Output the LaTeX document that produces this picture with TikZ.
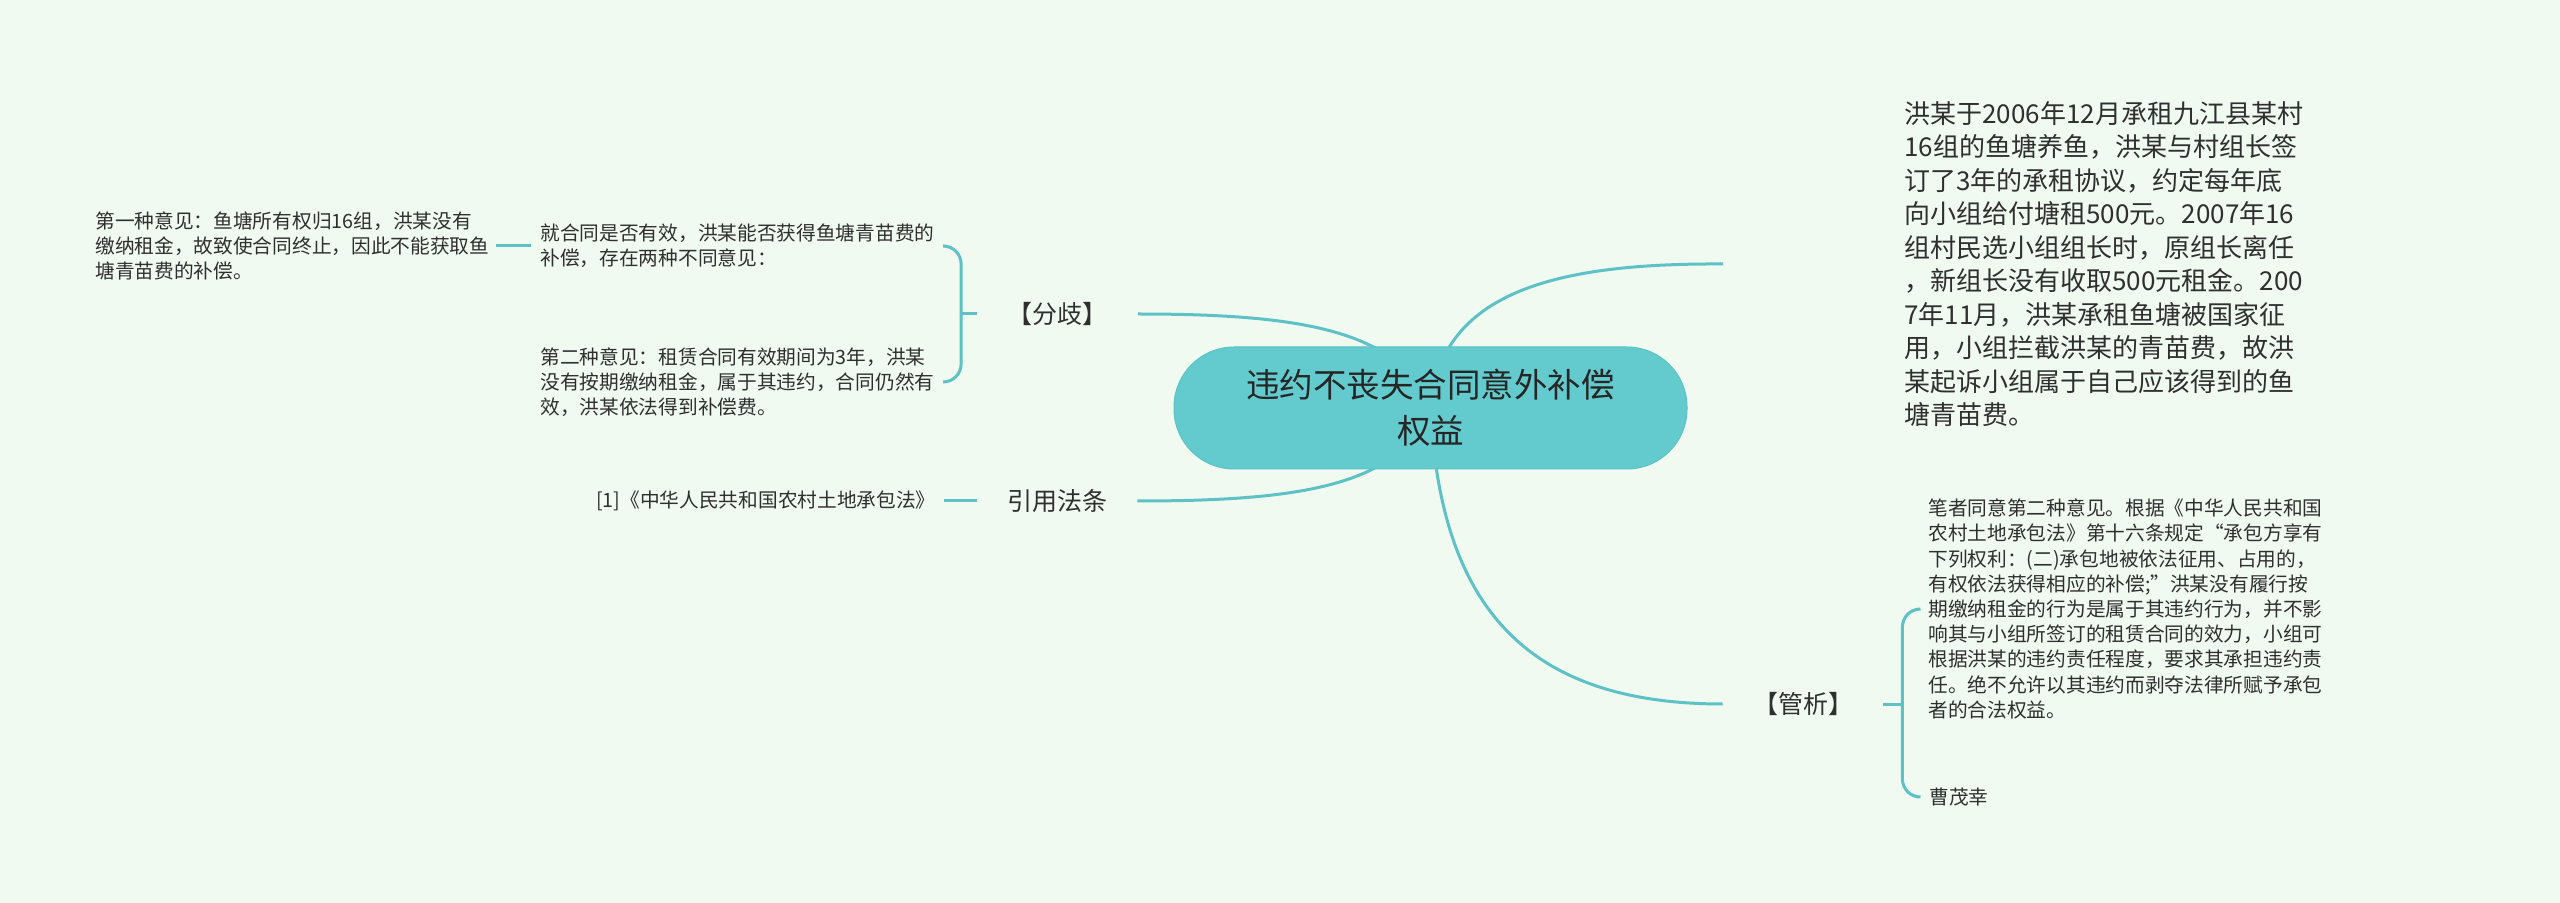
\documentclass[tikz,border=0pt]{standalone}
\usepackage{fontspec}
\setmainfont{Noto Sans CJK SC}
\pgfdeclarelayer{bg}
\pgfdeclarelayer{lines}
\pgfsetlayers{bg,lines,main}
\definecolor{bgc}{HTML}{F0FAF0}
\definecolor{linec}{HTML}{5EC1C5}
\definecolor{rootc}{HTML}{63CACD}
\definecolor{txt}{HTML}{2F2F2F}
\begin{document}
\begin{tikzpicture}[x=0.5pt,y=-0.5pt,
  conn/.style={draw=linec,line width=1.5pt},
  brace/.style={conn,rounded corners=9pt},
  rootnode/.style={draw=linec,line width=0.5pt,fill=rootc,rounded corners=30pt,minimum width=256.5pt,minimum height=61pt,inner sep=0pt,align=center,text=black!85,font=\fontsize{16.75pt}{23pt}\selectfont},
  lbl/.style={inner sep=0pt,minimum width=80pt,font=\fontsize{12.5pt}{15pt}\selectfont,text=txt},
  small/.style={inner sep=0pt,align=left,font=\fontsize{9.85pt}{12.6pt}\selectfont,text=txt},
  big/.style={inner sep=0pt,align=left,font=\fontsize{13pt}{16.75pt}\selectfont,text=txt}]
\useasboundingbox (0,0) rectangle (2560,903);
\begin{pgfonlayer}{bg}
\fill[bgc] (0,0) rectangle (2560,903);
\end{pgfonlayer}

% nodes
\node[rootnode] (root) at (1430.5,408) {违约不丧失合同意外补偿\\权益};
\node[lbl] (fq) at (1057.5,314) {【分歧】};
\node[lbl] (yy) at (1057,501) {引用法条};
\node[lbl] (gx) at (1803,704) {【管析】};
\node[big,anchor=west] (tr) at (1904,264) {洪某于2006年12月承租九江县某村\\16组的鱼塘养鱼，洪某与村组长签\\订了3年的承租协议，约定每年底\\向小组给付塘租500元。2007年16\\组村民选小组组长时，原组长离任\\，新组长没有收取500元租金。200\\7年11月，洪某承租鱼塘被国家征\\用，小组拦截洪某的青苗费，故洪\\某起诉小组属于自己应该得到的鱼\\塘青苗费。};
\node[small,anchor=west] (jht) at (540,246) {就合同是否有效，洪某能否获得鱼塘青苗费的\\补偿，存在两种不同意见：};
\node[small,anchor=west] (der) at (540,382) {第二种意见：租赁合同有效期间为3年，洪某\\没有按期缴纳租金，属于其违约，合同仍然有\\效，洪某依法得到补偿费。};
\node[small,anchor=west] (dyi) at (95,246) {第一种意见：鱼塘所有权归16组，洪某没有\\缴纳租金，故致使合同终止，因此不能获取鱼\\塘青苗费的补偿。};
\node[small,anchor=east] (law) at (936,501) {[1]《中华人民共和国农村土地承包法》};
\node[small,anchor=west] (bz) at (1928,609) {笔者同意第二种意见。根据《中华人民共和国\\农村土地承包法》第十六条规定“承包方享有\\下列权利：(二)承包地被依法征用、占用的，\\有权依法获得相应的补偿;”洪某没有履行按\\期缴纳租金的行为是属于其违约行为，并不影\\响其与小组所签订的租赁合同的效力，小组可\\根据洪某的违约责任程度，要求其承担违约责\\任。绝不允许以其违约而剥夺法律所赋予承包\\者的合法权益。};
\node[small,anchor=west] (cmx) at (1929,797) {曹茂幸};

% connectors
\begin{pgfonlayer}{lines}
\draw[conn] (root.center) .. controls (1400,330) and (1300,314) .. (fq.east);
\draw[conn] (root.center) .. controls (1400,486) and (1300,501) .. (yy.east);
\draw[conn] (root.center) .. controls (1440,290) and (1560,263) .. ([xshift=-90.5pt]tr.west);
\draw[conn] (root.center) .. controls (1440,600) and (1520,704) .. (gx.west);
\end{pgfonlayer}

% 分歧 brace
\draw[conn] (fq.west) -- ++(-16,0) coordinate (fqs);
\draw[brace] (fqs) |- ([xshift=4.5pt]jht.east);
\draw[brace] (fqs) |- ([xshift=4.5pt]der.east);
\draw[conn] ([xshift=-4.5pt]jht.west) -- ([xshift=3pt]dyi.east);
\draw[conn] (yy.west) -- ([xshift=4pt]law.east);

% 管析 brace
\draw[conn] (gx.east) -- ++(19,0) coordinate (gxs);
\draw[brace] (gxs) |- ([xshift=-4pt]bz.west);
\draw[brace] (gxs) |- ([xshift=-4.5pt]cmx.west);
\end{tikzpicture}
\end{document}
